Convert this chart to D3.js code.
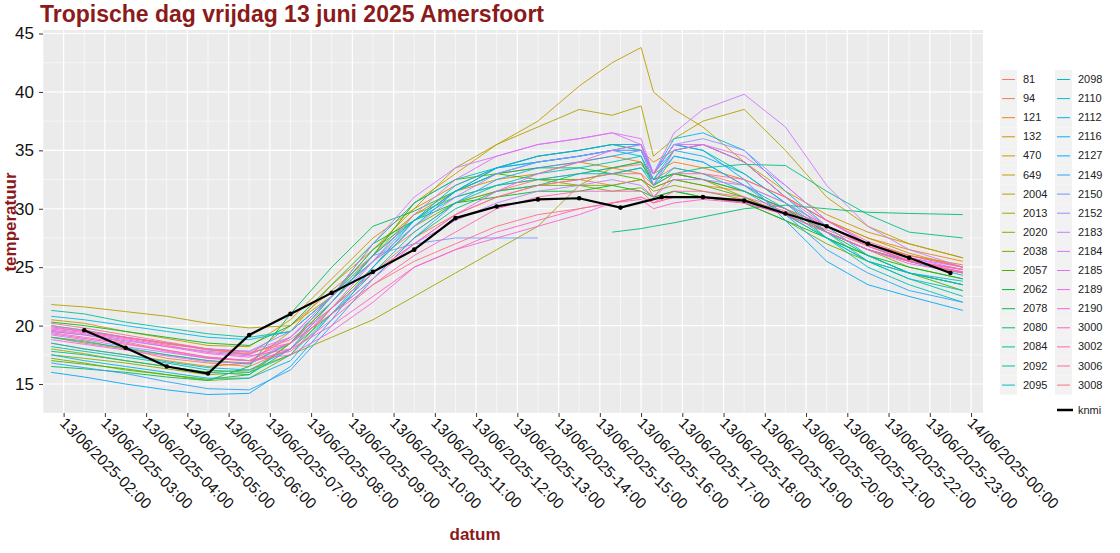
<!DOCTYPE html>
<html><head><meta charset="utf-8">
<script src="https://cdn.jsdelivr.net/npm/d3@7"></script>
<style>body{margin:0;background:#fff;font-family:"Liberation Sans",Arial,sans-serif}</style>
</head><body><svg id="c" width="1120" height="553"></svg>
<script>
const times=[1.7,2.5,3.5,4.5,5.5,6.5,7.5,8.5,9.5,10.5,11.5,12.5,13.5,14.5,15.3,16,16.3,16.8,17.5,18.5,19.5,20.5,21.5,22.5,23.8];
const stations=["81","94","121","132","470","649","2004","2013","2020","2038","2057","2062","2078","2080","2084","2092","2095","2098","2110","2112","2116","2127","2149","2150","2152","2183","2184","2185","2189","2190","3000","3002","3006","3008"];
const N=null;
const s81=[19.5,19.2,18.6,17.9,17.3,17.0,19.0,22.5,25.5,28.0,30.5,31.5,32.5,33.0,33.5,33.8,32.5,33.5,33.0,32.0,30.5,28.5,27.0,26.0,25.0];
const s94=[19.0,18.5,18.0,17.2,16.8,16.5,18.0,21.5,24.5,27.5,29.5,31.0,32.0,32.5,32.0,32.5,31.8,32.5,32.0,31.5,30.0,28.0,26.5,25.5,24.5];
const s121=[20.0,19.6,19.0,18.4,18.0,17.5,20.0,23.0,26.0,29.0,31.5,33.0,33.5,34.0,34.5,34.0,33.0,34.0,33.5,32.5,31.0,29.0,27.5,26.5,25.5];
const s132=[18.5,18.0,17.5,17.0,16.5,16.8,19.5,23.5,26.5,29.5,31.5,32.5,33.0,34.0,33.5,33.0,32.0,33.0,32.5,31.5,30.0,28.5,27.0,26.0,25.2];
const s470=[20.5,20.2,19.5,18.9,18.3,18.2,20.5,24.0,27.5,30.0,32.0,33.5,34.5,35.0,35.5,35.0,34.0,35.0,35.5,34.0,31.5,29.5,28.0,27.0,25.8];
const s649=[19.0,18.7,18.0,17.5,17.0,16.8,18.5,22.0,26.0,30.5,33.0,35.5,37.5,40.5,42.5,43.8,40.0,38.5,37.0,34.0,31.0,29.0,27.5,26.2,25.0];
const s2004=[21.8,21.6,21.2,20.8,20.2,19.8,20.0,22.5,26.5,30.0,33.5,35.5,37.0,38.5,38.0,38.8,34.5,36.0,37.5,38.5,35.0,31.0,28.5,27.0,25.8];
const s2013=[18.0,17.6,17.0,16.5,16.0,16.2,17.5,19.0,20.5,22.5,24.5,26.5,28.5,32.0,33.5,34.0,32.5,33.0,32.5,31.0,29.5,28.0,26.5,25.5,24.5];
const s2020=[17.5,17.2,16.8,16.3,15.8,16.0,18.5,22.5,26.0,29.5,31.0,32.0,32.5,32.0,32.0,32.5,31.5,32.0,31.5,30.8,29.5,28.0,26.5,25.0,24.0];
const s2038=[17.2,16.8,16.2,15.8,15.3,15.5,17.5,21.5,25.0,28.5,30.5,31.5,32.0,32.0,31.5,31.8,31.0,31.5,31.0,30.5,29.0,27.0,25.5,24.5,23.5];
const s2057=[17.0,16.7,16.3,15.8,15.4,15.8,18.5,22.0,26.0,30.5,32.5,33.0,32.5,32.5,33.0,32.5,31.8,32.5,32.0,31.0,29.5,27.5,26.0,24.5,23.0];
const s2062=[20.3,20.0,19.5,19.0,18.5,18.3,20.0,23.5,27.0,29.0,30.5,31.0,31.5,31.5,32.0,31.5,31.0,31.5,31.0,30.5,29.0,27.5,26.0,25.0,24.0];
const s2078=[16.5,16.3,16.0,15.6,15.3,16.5,21.0,25.0,28.5,29.8,31.5,33.0,33.5,33.5,33.0,33.5,32.5,33.0,32.5,31.5,30.0,28.0,26.0,24.5,23.5];
const s2080=[N,N,N,N,N,N,N,N,N,N,N,N,N,N,28.0,28.3,28.5,28.8,29.3,30.0,30.3,30.0,29.7,29.6,29.5];
const s2084=[17.8,17.5,17.0,16.5,16.0,15.8,18.0,21.0,24.0,27.5,30.0,31.5,32.0,33.0,33.5,34.0,32.0,33.0,33.5,33.8,33.7,31.5,29.5,28.0,27.5];
const s2092=[21.3,21.0,20.3,19.8,19.3,19.0,19.5,22.5,26.5,29.0,31.5,33.5,34.5,35.0,35.5,35.0,33.0,35.5,35.0,33.0,30.5,27.5,25.5,24.0,22.5];
const s2095=[18.2,17.8,17.3,16.8,16.2,16.0,17.5,21.0,24.5,28.0,30.5,32.0,33.0,33.5,34.0,34.5,32.0,34.5,34.0,32.0,30.0,27.5,25.0,23.5,22.0];
const s2098=[19.0,18.6,18.1,17.5,17.0,16.7,18.5,22.5,27.0,30.5,32.5,33.5,34.0,34.5,35.0,34.5,32.5,35.0,35.5,34.0,31.0,28.0,25.5,24.0,23.0];
const s2110=[18.5,18.0,17.5,16.9,16.4,16.2,18.0,22.0,26.0,29.0,31.0,32.0,32.5,33.0,33.0,33.5,32.0,33.5,33.0,31.5,29.5,27.5,25.5,24.5,23.5];
const s2112=[20.8,20.5,20.0,19.5,19.0,18.8,19.5,22.5,25.5,29.0,31.5,33.0,34.0,34.5,35.0,35.5,33.0,36.0,36.5,35.0,31.5,28.5,26.0,24.5,23.8];
const s2116=[17.5,17.0,16.5,16.0,15.5,15.5,17.0,21.0,25.0,29.0,32.0,33.5,34.0,34.5,35.0,35.0,33.0,35.0,34.5,33.0,30.5,28.0,26.5,25.5,24.3];
const s2127=[16.0,15.6,15.0,14.5,14.1,14.2,16.5,20.5,25.0,28.5,31.5,33.5,34.5,35.0,35.5,35.5,33.0,35.5,35.0,32.5,29.0,25.5,23.5,22.5,21.3];
const s2149=[16.8,16.4,15.9,15.2,14.6,14.5,16.2,20.0,24.0,27.5,30.5,32.5,33.5,34.0,34.5,35.0,32.5,34.5,34.0,32.0,29.5,26.5,24.5,23.0,22.0];
const s2150=[20.0,19.6,19.0,18.5,18.0,17.8,19.5,22.5,26.0,27.0,27.5,27.5,27.5,N,N,N,N,N,N,N,N,N,N,N,N];
const s2152=[19.5,19.2,18.7,18.2,17.8,17.5,19.0,22.0,25.5,28.5,31.0,33.0,34.0,34.5,35.0,35.0,33.0,35.5,36.0,35.0,32.0,29.0,27.0,25.5,24.8];
const s2183=[19.2,18.8,18.2,17.7,17.2,17.0,18.5,21.5,24.5,27.0,29.0,30.5,31.5,32.0,32.5,32.0,31.0,32.5,32.5,32.0,30.5,28.5,27.0,25.8,24.8];
const s2184=[19.8,19.5,19.0,18.5,18.0,17.8,19.0,22.5,27.0,31.0,33.5,34.5,35.5,36.0,36.5,35.5,33.0,36.5,38.5,39.8,37.0,32.0,28.5,26.5,25.0];
const s2185=[18.8,18.4,17.9,17.4,16.9,16.8,18.0,21.5,25.5,29.5,32.5,34.5,35.5,36.0,36.5,36.0,33.0,35.5,35.5,34.5,32.0,29.0,27.0,25.8,25.0];
const s2189=[19.6,19.3,18.8,18.2,17.6,17.3,18.5,21.0,24.0,27.0,29.5,31.5,33.0,34.0,35.0,35.5,32.0,35.0,35.5,34.0,31.0,28.5,26.8,25.5,24.6];
const s2190=[19.4,19.0,18.5,17.8,17.2,17.0,17.5,19.5,22.0,25.0,26.5,27.5,28.5,29.5,30.5,31.0,30.5,31.0,31.0,30.5,29.5,28.0,26.5,25.5,24.8];
const s3000=[19.7,19.4,18.9,18.3,17.7,17.4,18.0,20.0,22.5,25.0,26.5,28.0,29.0,30.0,30.5,30.8,30.0,30.5,30.8,30.5,29.5,28.0,26.5,25.3,24.5];
const s3002=[19.3,18.9,18.4,17.9,17.3,17.0,17.8,20.5,23.5,26.0,28.0,30.0,31.0,31.5,31.5,31.5,30.5,31.5,31.5,31.0,30.0,28.5,26.8,25.5,24.6];
const s3006=[19.9,19.5,19.0,18.5,17.9,17.6,18.8,21.5,24.5,27.0,29.5,31.0,32.0,32.5,33.0,33.0,31.0,33.0,33.0,32.5,31.0,29.0,27.2,26.0,25.0];
const s3008=[20.2,19.8,19.2,18.6,18.0,17.7,18.5,21.0,23.5,25.5,27.0,28.5,29.5,30.0,30.5,31.0,30.5,31.0,31.0,30.8,29.8,28.2,26.8,25.6,24.8];
const seriesValues=[s81,s94,s121,s132,s470,s649,s2004,s2013,s2020,s2038,s2057,s2062,s2078,s2080,s2084,s2092,s2095,s2098,s2110,s2112,s2116,s2127,s2149,s2150,s2152,s2183,s2184,s2185,s2189,s2190,s3000,s3002,s3006,s3008];
const knmiTimes=[2.5,3.5,4.5,5.5,6.5,7.5,8.5,9.5,10.5,11.5,12.5,13.5,14.5,15.5,16.5,17.5,18.5,19.5,20.5,21.5,22.5,23.5];
const knmiValues=[19.6,18.1,16.5,15.9,19.2,21.0,22.8,24.6,26.5,29.2,30.2,30.8,30.9,30.1,31.0,31.0,30.7,29.6,28.5,27.0,25.8,24.5];
const xTickHours=d3.range(2,25);
const yTicks=[15,20,25,30,35,40,45];
const fmtTick=h=>(h<24?"13":"14")+"/06/2025-"+String(h%24).padStart(2,"0")+":00";

// ggplot-style hue palette (polar CIE-LUV)
function hclLuv(h,C,L){
  const Xn=95.047,Yn=100,Zn=108.883;
  const un=4*Xn/(Xn+15*Yn+3*Zn), vn=9*Yn/(Xn+15*Yn+3*Zn);
  const hr=h*Math.PI/180, u=C*Math.cos(hr), v=C*Math.sin(hr);
  const Y=Yn*Math.pow((L+16)/116,3);
  const up=u/(13*L)+un, vp=v/(13*L)+vn;
  const X=Y*9*up/(4*vp), Z=Y*(12-3*up-20*vp)/(4*vp);
  const x=X/100,y=Y/100,z=Z/100;
  let r=3.2406*x-1.5372*y-0.4986*z, g=-0.9689*x+1.8758*y+0.0415*z, b=0.0557*x-0.2040*y+1.0570*z;
  const gam=c=>{c=Math.max(0,Math.min(1,c));return Math.round(255*(c<=0.0031308?12.92*c:1.055*Math.pow(c,1/2.4)-0.055));};
  return d3.rgb(gam(r),gam(g),gam(b)).formatHex();
}

const svg=d3.select("#c");
const L=43,R=983,T=30,B=413;
const x=d3.scaleLinear().domain([1.5,24.29]).range([L,R]);
const y=d3.scaleLinear().domain([12.52,45.3]).range([B,T]);
svg.append("rect").attr("x",L).attr("y",T).attr("width",R-L).attr("height",B-T).attr("fill","#EBEBEB");
const g=svg.append("g");
d3.range(1.5,24.3,1).forEach(h=>g.append("line").attr("x1",x(h)).attr("x2",x(h)).attr("y1",T).attr("y2",B).attr("stroke","#fff").attr("stroke-width",0.6));
[12.5,17.5,22.5,27.5,32.5,37.5,42.5].forEach(v=>g.append("line").attr("y1",y(v)).attr("y2",y(v)).attr("x1",L).attr("x2",R).attr("stroke","#fff").attr("stroke-width",0.6));
xTickHours.forEach(h=>g.append("line").attr("x1",x(h)).attr("x2",x(h)).attr("y1",T).attr("y2",B).attr("stroke","#fff").attr("stroke-width",1.2));
yTicks.forEach(v=>g.append("line").attr("y1",y(v)).attr("y2",y(v)).attr("x1",L).attr("x2",R).attr("stroke","#fff").attr("stroke-width",1.2));

const n=stations.length;
const color=i=>hclLuv(15+360*i/n,100,65);
const line=d3.line().defined(d=>d[1]!=null).x(d=>x(d[0])).y(d=>y(d[1]));
seriesValues.forEach((vals,i)=>{
  svg.append("path").attr("d",line(times.map((t,j)=>[t,vals[j]]))).attr("fill","none").attr("stroke",color(i)).attr("stroke-width",1).attr("stroke-opacity",0.9);
});
const kd=knmiTimes.map((t,j)=>[t,knmiValues[j]]);
svg.append("path").attr("d",line(kd)).attr("fill","none").attr("stroke","#000").attr("stroke-width",2.2);
svg.selectAll(".kp").data(kd).enter().append("circle").attr("cx",d=>x(d[0])).attr("cy",d=>y(d[1])).attr("r",2.3).attr("fill","#000");

const ya=svg.append("g").attr("transform",`translate(${L},0)`).call(d3.axisLeft(y).tickValues(yTicks).tickSize(4).tickPadding(5));
ya.select(".domain").remove();
ya.selectAll("line").attr("stroke","#333");
ya.selectAll("text").attr("font-size",17).attr("fill","#111").attr("font-family","Liberation Sans, Arial");
const xa=svg.append("g").attr("transform",`translate(0,${B})`).call(d3.axisBottom(x).tickValues(xTickHours).tickFormat(fmtTick).tickSize(4));
xa.select(".domain").remove();
xa.selectAll("line").attr("stroke","#333");
xa.selectAll("text").attr("font-size",15.5).attr("fill","#111").attr("font-family","Liberation Sans, Arial")
  .attr("text-anchor","start").attr("dy",0).attr("y",0).attr("transform","translate(-5,11) rotate(45)");

svg.append("text").attr("x",40).attr("y",22).attr("font-size",23).attr("font-weight","bold").attr("fill","#8B1A1A").text("Tropische dag vrijdag 13 juni 2025 Amersfoort");
svg.append("text").attr("x",475).attr("y",540).attr("text-anchor","middle").attr("font-size",17).attr("font-weight","bold").attr("fill","#8B1A1A").text("datum");
svg.append("text").attr("transform","translate(16,222) rotate(-90)").attr("text-anchor","middle").attr("font-size",17).attr("font-weight","bold").attr("fill","#8B1A1A").text("temperatuur");

const lg=svg.append("g");
stations.forEach((s,i)=>{
  const col=Math.floor(i/17),row=i%17;
  const lx=1000+col*55, ly=70+row*19.1;
  lg.append("rect").attr("x",lx).attr("y",ly).attr("width",17).attr("height",19.1).attr("fill","#F2F2F2");
  lg.append("line").attr("x1",lx+2).attr("x2",lx+15).attr("y1",ly+9.5).attr("y2",ly+9.5).attr("stroke",color(i)).attr("stroke-width",1);
  lg.append("text").attr("x",lx+23).attr("y",ly+13).attr("font-size",11).attr("fill","#222").text(s);
});
lg.append("line").attr("x1",1057).attr("x2",1073).attr("y1",410).attr("y2",410).attr("stroke","#000").attr("stroke-width",2.5);
lg.append("text").attr("x",1078).attr("y",414).attr("font-size",11).attr("fill","#222").text("knmi");
</script></body></html>
